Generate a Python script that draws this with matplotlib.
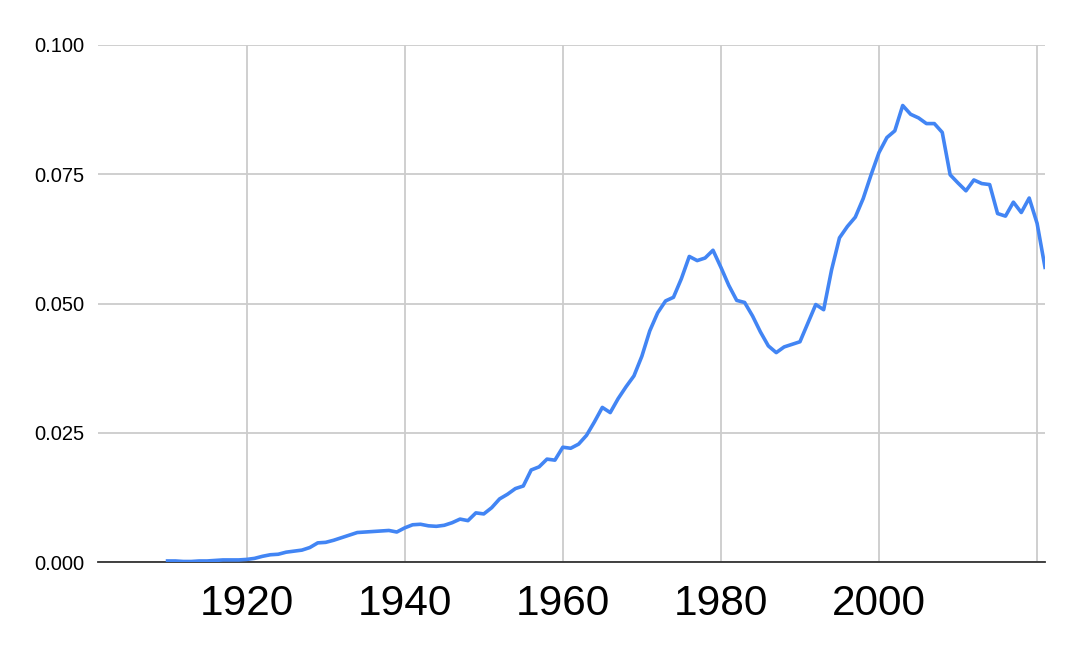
"""Yearly frequency line, Google-Sheets style."""

import numpy as np
import matplotlib.pyplot as plt

YEARS = list(range(1910, 2022))
VALUES = [
    0.0002, 0.0002, 0.0001, 0.0001, 0.0002, 0.0002, 0.0003, 0.0004, 0.0004, 0.0004,  # 1910s
    0.0005, 0.0007, 0.0011, 0.0014, 0.0015, 0.0019, 0.0021, 0.0023, 0.0028, 0.0037,  # 1920s
    0.0038, 0.0042, 0.0047, 0.0052, 0.0057, 0.0058, 0.0059, 0.0060, 0.0061, 0.0058,  # 1930s
    0.0066, 0.0072, 0.0073, 0.0070, 0.0069, 0.0071, 0.0076, 0.0083, 0.0080, 0.0095,  # 1940s
    0.0093, 0.0105, 0.0122, 0.0131, 0.0142, 0.0147, 0.0178, 0.0184, 0.0199, 0.0197,  # 1950s
    0.0222, 0.0220, 0.0228, 0.0245, 0.0271, 0.0299, 0.0289, 0.0316, 0.0339, 0.0360,  # 1960s
    0.0398, 0.0447, 0.0482, 0.0505, 0.0512, 0.0548, 0.0591, 0.0583, 0.0588, 0.0603,  # 1970s
    0.0570, 0.0535, 0.0506, 0.0502, 0.0476, 0.0445, 0.0418, 0.0405, 0.0416, 0.0421,  # 1980s
    0.0426, 0.0462, 0.0498, 0.0488, 0.0565, 0.0627, 0.0649, 0.0667, 0.0703, 0.0749,  # 1990s
    0.0792, 0.0821, 0.0834, 0.0883, 0.0866, 0.0859, 0.0848, 0.0848, 0.0831, 0.0749,  # 2000s
    0.0733, 0.0718, 0.0739, 0.0732, 0.0730, 0.0674, 0.0669, 0.0696, 0.0676, 0.0704,  # 2010s
    0.0655, 0.0570,                                                                  # 2020s
]

X_TICKS   = [1920, 1940, 1960, 1980, 2000, 2020]
X_LABELS  = ["1920", "1940", "1960", "1980", "2000", ""]
Y_TICKS   = [0.0, 0.025, 0.05, 0.075, 0.1]
Y_LABELS  = ["0.000", "0.025", "0.050", "0.075", "0.100"]

LINE_COLOR = "#4285F4"
GRID_COLOR = "#cccccc"
FONT       = ["Liberation Sans", "DejaVu Sans"]


def main():
    fig = plt.figure(figsize=(10.8, 6.68), dpi=100)
    ax = fig.add_axes([98 / 1080, 1 - 562 / 668, (1045 - 98) / 1080, (562 - 45) / 668])

    ax.plot(YEARS, VALUES, color=LINE_COLOR, linewidth=2.6, solid_joinstyle="round", zorder=3)

    ax.set_xlim(1901.2, 2021)
    ax.set_ylim(0, 0.1)

    ax.set_xticks(X_TICKS)
    ax.set_xticklabels(X_LABELS, fontsize=30.5, family=FONT)
    ax.set_yticks(Y_TICKS)
    ax.set_yticklabels(Y_LABELS, fontsize=14.5, family=FONT)

    ax.tick_params(axis="both", length=0)
    ax.tick_params(axis="y", pad=9.5)
    ax.tick_params(axis="x", pad=16)

    ax.grid(True, color=GRID_COLOR, linewidth=1.3)
    ax.set_axisbelow(True)

    for side in ("top", "right", "left"):
        ax.spines[side].set_visible(False)
    ax.spines["bottom"].set_color("#333333")
    ax.spines["bottom"].set_linewidth(1.3)
    ax.spines["bottom"].set_zorder(2)

    fig.savefig("out.png", dpi=100, facecolor="white")
    plt.close(fig)


if __name__ == "__main__":
    main()
